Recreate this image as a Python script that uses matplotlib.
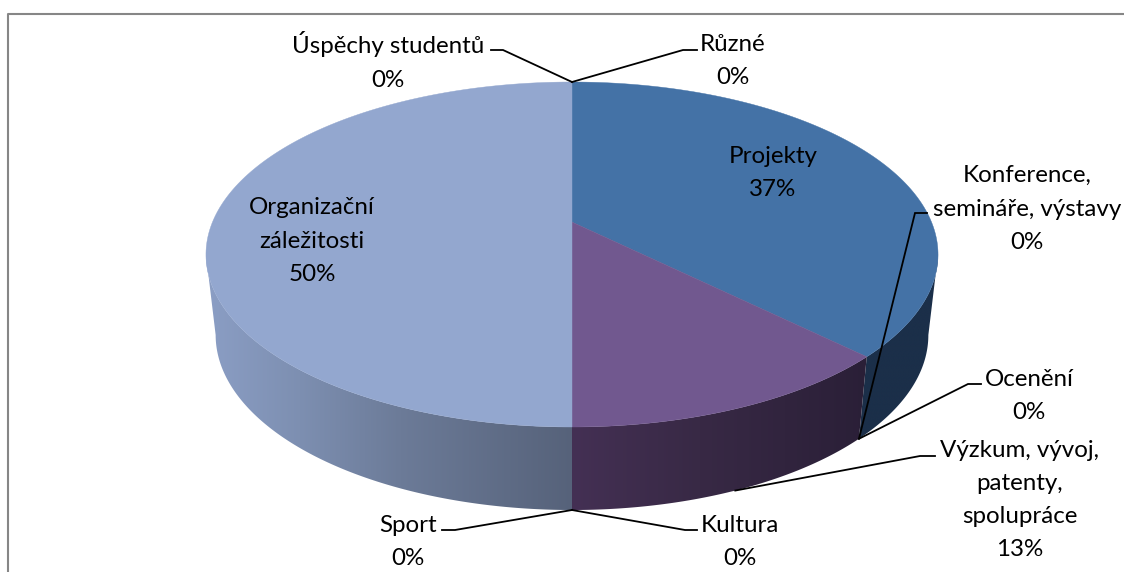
import numpy as np
import matplotlib
matplotlib.use('Agg')
import matplotlib.pyplot as plt
from matplotlib.colors import to_rgb
from matplotlib.patches import Polygon

plt.rcParams['font.family'] = ['Lato', 'DejaVu Sans']

# clockwise from 12 o'clock
categories = ['Různé', 'Projekty', 'Konference,\nsemináře, výstavy', 'Ocenění',
              'Výzkum, vývoj,\npatenty,\nspolupráce', 'Kultura', 'Sport',
              'Organizační\nzáležitosti', 'Úspěchy studentů']
values = [0, 37.4, 0, 0, 12.6, 0, 0, 50, 0]

# label centre, elbow and end of the leader line (pixels), None = label inside the pie
label_pos = [(733, 61), (773, 173), (1027, 209), (1029, 396), (1020, 500),
             (740, 542), (408, 542), (312, 241), (388, 61)]
leaders = [[(697, 50), (683, 50)], None, [(927, 213), (915, 213)], [(981, 384), (968, 384)],
           [(935, 456), (920, 456)], [(697, 530), (685, 530)], [(442, 530), (455, 530)],
           None, [(491, 50), (503, 50)]]
leader_rim = ['top', None, 'bottom', 'bottom', 'bottom', 'bottom', 'bottom', None, 'top']

top_colors = ['#4472a6', '#4472a6', '#4472a6', '#4472a6', '#71588f', '#71588f', '#71588f', '#93a7cf', '#93a7cf']

CX = 572
# perspective of the two discs: x scale, y of near/far rim
TOP = dict(k=359.5, y_far=82, y_near=427)
BOTTOM = dict(k=350, y_far=160, y_near=510)
PERSP = 0.188
# angles where the rim is widest, the side wall starts and stops there
SILHOUETTE = np.degrees(np.arccos(-PERSP))


def rim(theta, disc, r=1.0):
    """theta in degrees clockwise from the top -> pixel coordinates on a disc"""
    t = np.radians(theta)
    u, v = r * np.sin(t), r * np.cos(t)
    a = (disc['y_far'] * (1 + PERSP) + disc['y_near'] * (1 - PERSP)) / 2
    b = disc['y_far'] * (1 + PERSP) - a
    w = 1 + PERSP * v
    return CX + disc['k'] * u / w, (a + b * v) / w


def draw_side(ax, t1, t2, stops):
    """side wall between two angles, filled with a horizontal gradient"""
    th = np.linspace(t1, t2, 150)
    x1, y1 = rim(th, TOP)
    x2, y2 = rim(th[::-1], BOTTOM)
    pts = np.column_stack([np.r_[x1, x2], np.r_[y1, y2]])
    poly = Polygon(pts, closed=True, fc='none', ec='none')
    ax.add_patch(poly)
    x0, x9 = pts[:, 0].min(), pts[:, 0].max()
    xs = np.linspace(x0, x9, 512)
    sx = [s[0] for s in stops]
    rgb = np.array([to_rgb(s[1]) for s in stops])
    img = np.stack([np.interp(xs, sx, rgb[:, c]) for c in range(3)], axis=-1)[None, :, :]
    im = ax.imshow(img, aspect='auto', extent=(x0, x9, pts[:, 1].max(), pts[:, 1].min()), zorder=1)
    im.set_clip_path(poly)


def main():
    fig = plt.figure(figsize=(11.24, 5.72), dpi=100)
    ax = fig.add_axes([0, 0, 1, 1])

    # chart frame
    ax.plot([8, 8, 1124], [572, 14, 14], color='#868686', lw=1.5, zorder=0)

    edges = np.cumsum([0] + values) / sum(values) * 360
    end_blue = edges[2]
    end_purple = edges[5]

    # side walls, only the part facing the viewer
    draw_side(ax, SILHOUETTE, end_blue, [(800, '#1b2f49'), (945, '#1b2f49')])
    draw_side(ax, end_blue, end_purple, [(572, '#443054'), (700, '#382945'), (870, '#2a1f37')])
    draw_side(ax, end_purple, 360 - SILHOUETTE,
              [(200, '#8c9fc6'), (300, '#7d8fb1'), (400, '#6c7b98'), (572, '#56627a')])

    # top of the pie
    for i, v in enumerate(values):
        if v == 0:
            continue
        th = np.linspace(edges[i], edges[i + 1], 200)
        x, y = rim(th, TOP)
        x0, y0 = rim(0.0, TOP, r=0.0)
        ax.add_patch(Polygon(np.column_stack([np.r_[x0, x], np.r_[y0, y]]), closed=True,
                             fc=top_colors[i], ec=top_colors[i], lw=0.3, zorder=2))

    # labels and leader lines
    for i, name in enumerate(categories):
        lx, ly = label_pos[i]
        ax.text(lx, ly, f'{name}\n{round(values[i])}%', ha='center', va='center',
                fontsize=17.4, color='black', linespacing=1.72, zorder=5)
        if leaders[i] is None:
            continue
        mid = (edges[i] + edges[i + 1]) / 2
        ex, ey = rim(mid, TOP if leader_rim[i] == 'top' else BOTTOM)
        xs = [p[0] for p in leaders[i]] + [ex]
        ys = [p[1] for p in leaders[i]] + [ey]
        ax.plot(xs, ys, color='black', lw=1.3, zorder=4, solid_joinstyle='miter')

    ax.set_xlim(0, 1124)
    ax.set_ylim(572, 0)
    ax.axis('off')
    fig.savefig('out.png', dpi=100, facecolor='white')


main()
